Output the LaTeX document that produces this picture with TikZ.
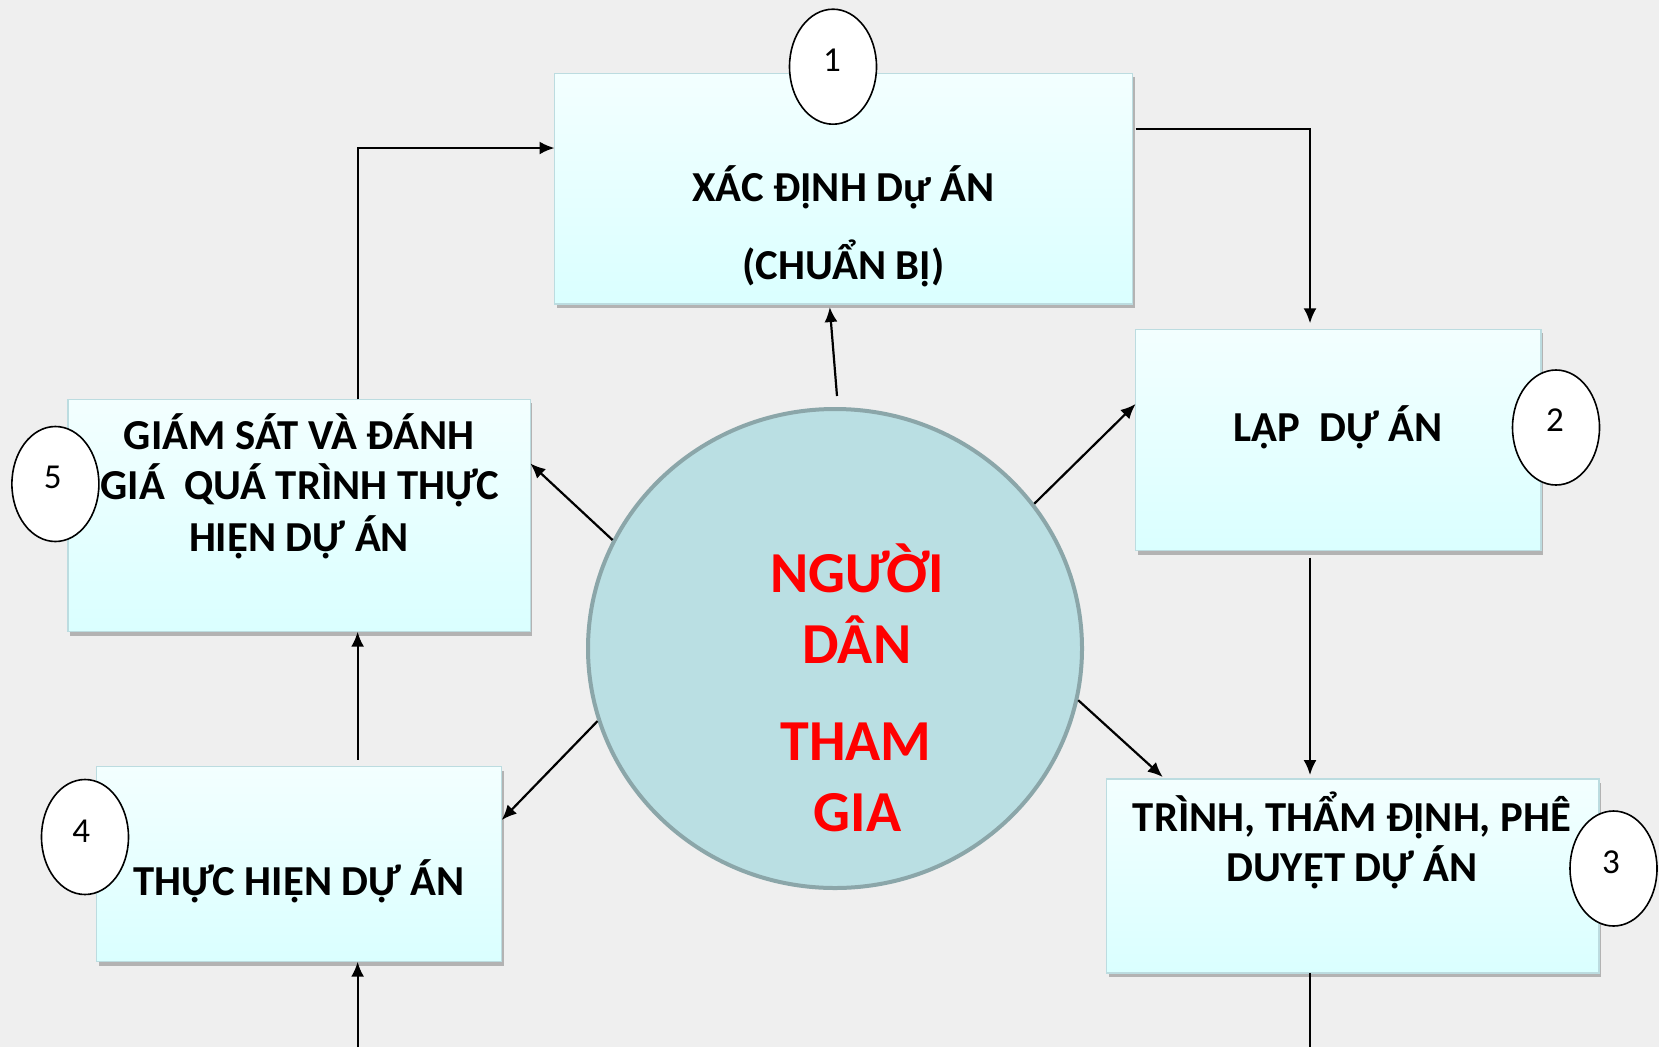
\documentclass[tikz,border=0pt]{standalone}
\usepackage{fontspec}
\setmainfont{Carlito}
\usetikzlibrary{arrows.meta,shapes.geometric,shadows,calc}
\definecolor{bg}{HTML}{EFEFEF}
\definecolor{boxtop}{HTML}{F3FFFF}
\definecolor{boxbot}{HTML}{DAFFFF}
\definecolor{boxline}{HTML}{BCDCE0}
\definecolor{cfill}{HTML}{BADFE3}
\definecolor{cline}{HTML}{8BA6A9}
\definecolor{redtxt}{HTML}{FF0000}
\begin{document}
\begin{tikzpicture}[x=1pt,y=-1pt,
  box/.style={rectangle, inner sep=0pt, outer sep=0pt, draw=boxline, line width=1.5pt,
    top color=boxtop, bottom color=boxbot,
    drop shadow={shadow xshift=2pt, shadow yshift=-4pt, fill=black!45, opacity=0.6}},
  numell/.style={ellipse, inner sep=0pt, draw=black, line width=1.6pt, fill=white,
    minimum width=87pt, minimum height=115pt},
  digit/.style={anchor=base, font=\fontsize{35}{40}\selectfont, inner sep=0pt},
  btxt/.style={anchor=base, font=\fontsize{42.7}{50}\selectfont\bfseries, inner sep=0pt},
  ctxt/.style={anchor=base, font=\fontsize{58}{70}\selectfont\bfseries, text=redtxt, inner sep=0pt},
  arr/.style={draw=black, line width=2.2pt, -{Latex[length=15pt,width=13pt]}},
  ln/.style={draw=black, line width=2.2pt}
]
\fill[bg] (0,0) rectangle (1659,1047);
\useasboundingbox (0,0) rectangle (1659,1047);

% helper coordinates
\coordinate (xL) at (357.6,0);
\coordinate (xR) at (1310,0);
\coordinate (yT) at (0,148);
\coordinate (yR) at (0,129);
\coordinate (pb) at (0,1047);
\coordinate (x1) at (829.5,0);
\coordinate (y2) at (0,404);
\coordinate (x3) at (1165,0);
\coordinate (y4) at (0,820);
\coordinate (y5) at (0,463.5);
\coordinate (ctop) at (837,396);

% boxes
\node[box, minimum width=578pt, minimum height=230.7pt] (b1) at (843.5,188.7) {};
\node[box, minimum width=405.4pt, minimum height=221.4pt] (b2) at (1338.3,440) {};
\node[box, minimum width=492.4pt, minimum height=193.7pt] (b3) at (1352.8,875.9) {};
\node[box, minimum width=405pt, minimum height=195pt] (b4) at (299.2,864.2) {};
\node[box, minimum width=462.5pt, minimum height=232.4pt] (b5) at (299.1,515.5) {};

% central circle
\node[ellipse, draw=cline, line width=4pt, fill=cfill, inner sep=0pt,
  minimum width=494pt, minimum height=479pt] (c) at (835,648.5) {};

% connectors
\draw[arr] (b5.north -| xL) |- (b1.west |- yT);
\draw[arr, shorten <=3pt, shorten >=6pt] (b1.east |- yR) -| (b2.north -| xR);
\draw[arr, shorten <=7pt, shorten >=4pt] (b2.south -| xR) -- (b3.north -| xR);
\draw[ln] (b3.south -| xR) -- (xR |- pb);
\draw[arr] (xL |- pb) -- (b4.south -| xL);
\draw[arr, shorten <=7pt] (b4.north -| xL) -- (b5.south -| xL);

\draw[arr, shorten >=3pt] (ctop) -- (b1.south -| x1);
\draw[arr] (c.36) -- (b2.west |- y2);
\draw[arr, shorten >=3pt] (c.348.6) -- (b3.north -| x3);
\draw[arr] (c.197.3) -- (b4.east |- y4);
\draw[arr] (c.154.6) -- (b5.east |- y5);

% number ellipses
\node[numell] (n1) at (833,66.7) {};
\node[numell] (n2) at (1556,427.5) {};
\node[numell] (n3) at (1613.5,868.5) {};
\node[numell] (n4) at (85,837) {};
\node[numell] (n5) at (55.4,484) {};
\node[digit] (d1) at (832,71) {1};
\node[digit] (d2) at (1555,431.7) {2};
\node[digit] (d3) at (1611,873) {3};
\node[digit] (d4) at (81.3,842) {4};
\node[digit] (d5) at (52.7,488) {5};

% box texts
\node[btxt] (t1a) at (843.5,201) {XÁC ĐỊNH Dự ÁN};
\node[btxt] (t1b) at (843.5,279) {(CHUẨN BỊ)};
\node[btxt] (t2) at (1338,441) {LẬP\ \ DỰ ÁN};
\node[btxt] (t3a) at (1352,831) {TRÌNH, THẨM ĐỊNH, PHÊ};
\node[btxt] (t3b) at (1352,881) {DUYỆT DỰ ÁN};
\node[btxt] (t4) at (299,895) {THỰC HIỆN DỰ ÁN};
\node[btxt] (t5a) at (299,449) {GIÁM SÁT VÀ ĐÁNH};
\node[btxt] (t5b) at (300,499) {GIÁ\ \ QUÁ TRÌNH THỰC};
\node[btxt] (t5c) at (299,551) {HIỆN DỰ ÁN};

% circle text
\node[ctxt] (c1) at (857,592) {NGƯỜI};
\node[ctxt] (c2) at (857,663) {DÂN};
\node[ctxt] (c3) at (856,760) {THAM};
\node[ctxt] (c4) at (857.5,831) {GIA};
\end{tikzpicture}
\end{document}
